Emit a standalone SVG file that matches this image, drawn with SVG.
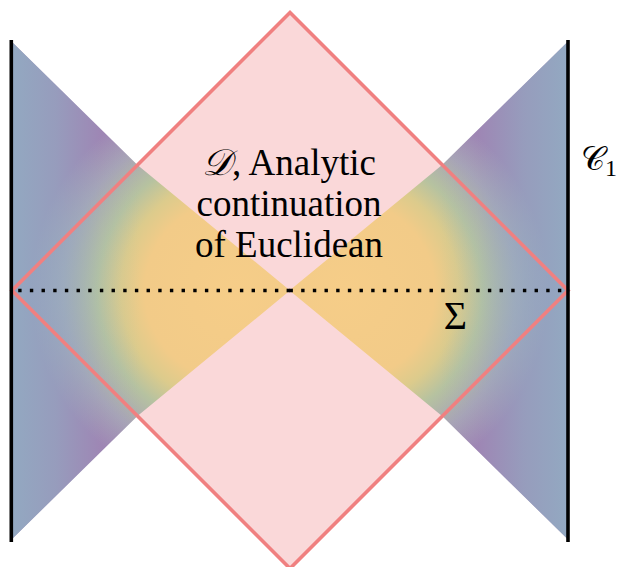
<svg xmlns="http://www.w3.org/2000/svg" width="617" height="567" viewBox="0 0 617 567">
<style>
text{font-family:"Liberation Serif","Times New Roman",Times,"DejaVu Serif","Noto Serif",serif;fill:#000;font-size:37px}
.edge{stroke:#f08080;stroke-width:3.6;fill:none;stroke-linejoin:miter}
.bound{stroke:#000;stroke-width:3.6}
.dots{stroke:#000;stroke-width:3.4;stroke-dasharray:3.4 8.27;fill:none}
</style>
<defs>
<radialGradient id="gL" gradientUnits="userSpaceOnUse" cx="235" cy="290.5" r="215">
<stop offset="0" stop-color="#f6cd88"/>
<stop offset="0.42" stop-color="#f2cb88"/>
<stop offset="0.53" stop-color="#dccb8c"/>
<stop offset="0.64" stop-color="#b6c2a0"/>
<stop offset="0.8" stop-color="#a8a2b6"/>
<stop offset="0.95" stop-color="#a080b2"/>
<stop offset="1" stop-color="#a080b2"/>
</radialGradient>
<radialGradient id="gR" gradientUnits="userSpaceOnUse" cx="344.5" cy="290.5" r="215">
<stop offset="0" stop-color="#f6cd88"/>
<stop offset="0.42" stop-color="#f2cb88"/>
<stop offset="0.53" stop-color="#dccb8c"/>
<stop offset="0.64" stop-color="#b6c2a0"/>
<stop offset="0.8" stop-color="#a8a2b6"/>
<stop offset="0.95" stop-color="#a080b2"/>
<stop offset="1" stop-color="#a080b2"/>
</radialGradient>
<linearGradient id="bL" gradientUnits="userSpaceOnUse" x1="11" y1="0" x2="140" y2="0">
<stop offset="0" stop-color="#8fb3c5" stop-opacity="0.8"/>
<stop offset="0.35" stop-color="#8fb3c5" stop-opacity="0.55"/>
<stop offset="0.7" stop-color="#8fb3c5" stop-opacity="0.12"/>
<stop offset="1" stop-color="#8fb3c5" stop-opacity="0"/>
</linearGradient>
<linearGradient id="bR" gradientUnits="userSpaceOnUse" x1="568.5" y1="0" x2="439.5" y2="0">
<stop offset="0" stop-color="#8fb3c5" stop-opacity="0.8"/>
<stop offset="0.35" stop-color="#8fb3c5" stop-opacity="0.55"/>
<stop offset="0.7" stop-color="#8fb3c5" stop-opacity="0.12"/>
<stop offset="1" stop-color="#8fb3c5" stop-opacity="0"/>
</linearGradient>
<path id="wL" d="M11.5 41.5 L137.5 165 L290 290.5 L137.5 416 L11.5 539.5 Z"/>
<path id="wR" d="M568 41.5 L442 165 L289.5 290.5 L442 416 L568 539.5 Z"/>
</defs>
<g id="domain-D-fill">
<path d="M290 12.5 L568 290.5 L290 568.5 L12 290.5 Z" fill="#fad8d9"/>
</g>
<g id="wedge-left">
<use href="#wL" fill="url(#gL)"/>
<use href="#wL" fill="url(#bL)"/>
</g>
<g id="wedge-right">
<use href="#wR" fill="url(#gR)"/>
<use href="#wR" fill="url(#bR)"/>
</g>
<g id="domain-D-edge">
<path class="edge" d="M290 12.5 L568 290.5 L290 568.5 L12 290.5 Z"/>
</g>
<g id="connectors">
<line class="bound" x1="11.3" y1="40" x2="11.3" y2="542"/>
<line class="bound" x1="568" y1="40" x2="568" y2="542"/>
<path class="dots" d="M290 290.5 H11"/>
<path class="dots" d="M289.5 290.5 H568"/>
</g>
<g id="label-D">
<text x="289" y="175" text-anchor="middle"><tspan font-style="italic">𝒟</tspan>, Analytic</text>
<text x="289" y="216" text-anchor="middle">continuation</text>
<text x="289" y="257" text-anchor="middle">of Euclidean</text>
</g>
<g id="label-C1">
<text x="581" y="170" style="font-size:33px">𝒞<tspan style="font-size:24px" dy="6">1</tspan></text>
</g>
<g id="label-Sigma">
<text x="455.5" y="329" text-anchor="middle" style="font-size:40px">Σ</text>
</g>
</svg>
